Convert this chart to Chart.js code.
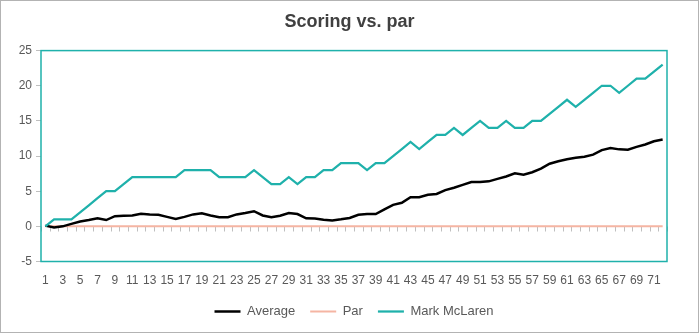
<!DOCTYPE html>
<html>
<head>
<meta charset="utf-8">
<script src="https://cdn.jsdelivr.net/npm/chart.js@4.4.0/dist/chart.umd.min.js"></script>
<style>
    html, body { margin: 0; padding: 0; background: #fff; }
    #chartContainer { width: 699px; height: 333px; position: relative; }
</style>
</head>
<body>
<div id="chartContainer"><canvas id="scoreChart"></canvas></div>
<script>
const holes = ['1','2','3','4','5','6','7','8','9','10','11','12','13','14','15','16','17','18',
    '19','20','21','22','23','24','25','26','27','28','29','30','31','32','33','34','35','36',
    '37','38','39','40','41','42','43','44','45','46','47','48','49','50','51','52','53','54',
    '55','56','57','58','59','60','61','62','63','64','65','66','67','68','69','70','71','72'];

const average = [0.1, -0.15, 0.0, 0.35, 0.7, 0.9, 1.15, 0.9, 1.45, 1.5, 1.55, 1.8,
    1.7, 1.65, 1.35, 1.05, 1.35, 1.7, 1.85, 1.55, 1.3, 1.3, 1.7, 1.9,
    2.15, 1.55, 1.3, 1.5, 1.9, 1.75, 1.15, 1.1, 0.95, 0.85, 1.0, 1.2,
    1.65, 1.75, 1.75, 2.4, 3.05, 3.35, 4.15, 4.15, 4.5, 4.6, 5.15, 5.5,
    5.9, 6.3, 6.3, 6.4, 6.75, 7.1, 7.55, 7.35, 7.7, 8.2, 8.9, 9.25,
    9.55, 9.75, 9.9, 10.2, 10.85, 11.15, 10.95, 10.9, 11.3, 11.65, 12.1, 12.35];

const par = [0, 0, 0, 0, 0, 0, 0, 0, 0, 0, 0, 0, 0, 0, 0, 0, 0, 0,
    0, 0, 0, 0, 0, 0, 0, 0, 0, 0, 0, 0, 0, 0, 0, 0, 0, 0,
    0, 0, 0, 0, 0, 0, 0, 0, 0, 0, 0, 0, 0, 0, 0, 0, 0, 0,
    0, 0, 0, 0, 0, 0, 0, 0, 0, 0, 0, 0, 0, 0, 0, 0, 0, 0];

const markMcLaren = [0, 1, 1, 1, 2, 3, 4, 5, 5, 6, 7, 7, 7, 7, 7, 7, 8, 8,
    8, 8, 7, 7, 7, 7, 8, 7, 6, 6, 7, 6, 7, 7, 8, 8, 9, 9,
    9, 8, 9, 9, 10, 11, 12, 11, 12, 13, 13, 14, 13, 14, 15, 14, 14, 15,
    14, 14, 15, 15, 16, 17, 18, 17, 18, 19, 20, 20, 19, 20, 21, 21, 22, 23];

const yTicks = [-5, 0, 5, 10, 15, 20, 25];

const teal = '#1fb1ab',
    salmon = '#f5b5a3',
    textGrey = '#595959',
    fontFamily = "'Liberation Sans', Arial, sans-serif";

// white background, outer frame, plot border and the little ticks on the zero line
const framePlugin = {
    id: 'framePlugin',
    afterLayout(chart) {
        // title centred on the whole chart, legend centred on the plot area
        const t = chart.titleBlock, l = chart.legend, a = chart.chartArea;
        t.left = 0; t.right = chart.width; t.width = chart.width;
        l.left = a.left; l.right = a.right; l.width = a.right - a.left;
    },
    beforeDraw(chart) {
        const c = chart.ctx;
        c.save();
        c.fillStyle = '#fff';
        c.fillRect(0, 0, chart.width, chart.height);
        c.strokeStyle = '#b3b3b3';
        c.lineWidth = 1;
        c.strokeRect(0.5, 0.5, chart.width - 1, chart.height - 1);
        c.restore();
    },
    beforeDatasetsDraw(chart) {
        const c = chart.ctx,
            xs = chart.scales.x,
            y0 = Math.round(chart.scales.y.getPixelForValue(0)) + 0.5;
        c.save();
        c.strokeStyle = '#bfbfbf';
        c.lineWidth = 1;
        c.beginPath();
        for (let i = 0; i <= holes.length; i++) {
            const a = xs.getPixelForValue(Math.max(i - 1, 0)),
                b = xs.getPixelForValue(Math.min(i, holes.length - 1));
            let px = (a + b) / 2;
            if (i === 0) px = xs.left;
            if (i === holes.length) px = xs.right;
            px = Math.round(px) + 0.5;
            c.moveTo(px, y0);
            c.lineTo(px, y0 + 5);
        }
        c.stroke();
        c.restore();
    },
    afterDraw(chart) {
        const c = chart.ctx,
            a = chart.chartArea;
        c.save();
        c.strokeStyle = teal;
        c.lineWidth = 1.5;
        c.strokeRect(a.left, a.top, a.right - a.left, a.bottom - a.top);
        c.restore();
    }
};

const ctx = document.getElementById('scoreChart').getContext('2d');
const myChart = new Chart(ctx, {
    type: 'line',
    data: {
        labels: holes,
        datasets: [{
            label: 'Average',
            data: average,
            borderColor: '#000000',
            backgroundColor: '#000000',
            borderWidth: 2.5,
            pointRadius: 0,
            tension: 0,
            order: 1
        }, {
            label: 'Par',
            data: par,
            borderColor: salmon,
            backgroundColor: salmon,
            borderWidth: 2,
            pointRadius: 0,
            tension: 0,
            order: 2
        }, {
            label: 'Mark McLaren',
            data: markMcLaren,
            borderColor: teal,
            backgroundColor: teal,
            borderWidth: 2.25,
            pointRadius: 0,
            tension: 0,
            order: 0
        }]
    },
    options: {
        responsive: true,
        maintainAspectRatio: false,
        animation: false,
        devicePixelRatio: 1,
        layout: {
            padding: { top: 0, right: 32, bottom: 5, left: 0 }
        },
        plugins: {
            title: {
                display: true,
                text: 'Scoring vs. par',
                color: '#404040',
                font: { family: fontFamily, size: 18, weight: 'bold', lineHeight: 1.2 },
                padding: { top: 11, bottom: 18 }
            },
            legend: {
                position: 'bottom',
                labels: {
                    color: textGrey,
                    font: { family: fontFamily, size: 13 },
                    usePointStyle: true,
                    pointStyle: 'line',
                    pointStyleWidth: 26,
                    padding: 15,
                    sort: (a, b) => a.datasetIndex - b.datasetIndex
                }
            },
            tooltip: { enabled: false }
        },
        scales: {
            x: {
                offset: true,
                afterFit: scale => { scale.height = 28.5; },
                grid: { display: false, drawTicks: false },
                border: { display: false },
                ticks: {
                    color: textGrey,
                    font: { family: fontFamily, size: 12 },
                    autoSkip: false,
                    maxRotation: 0,
                    padding: 12,
                    callback: (val, i) => (i % 2 === 0 ? holes[i] : '')
                }
            },
            y: {
                min: yTicks[0],
                max: yTicks[yTicks.length - 1],
                afterFit: scale => { scale.width = 41; },
                afterBuildTicks: scale => { scale.ticks = yTicks.map(v => ({ value: v })); },
                grid: {
                    drawOnChartArea: false,
                    drawTicks: true,
                    tickLength: 5,
                    color: '#bfbfbf'
                },
                border: { display: false },
                ticks: {
                    color: textGrey,
                    font: { family: fontFamily, size: 12 },
                    padding: 4
                }
            }
        }
    },
    plugins: [framePlugin]
});
</script>
</body>
</html>
